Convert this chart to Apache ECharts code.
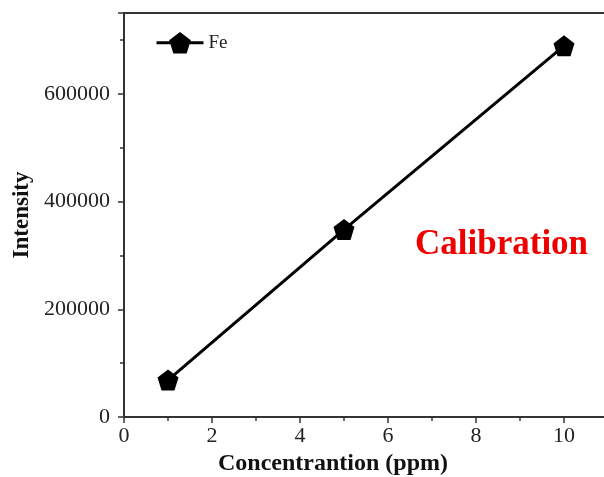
<!DOCTYPE html>
<html><head><meta charset="utf-8">
<script src="https://cdn.jsdelivr.net/npm/echarts@6/dist/echarts.min.js"></script>
<style>html,body{margin:0;padding:0;background:#fff}#c{width:604px;height:477px}</style>
</head><body><div id="c"></div>
<script>
const concentration = [1, 5, 10];
const intensity = [68500, 348000, 689000];
const seriesName = 'Fe';
const xTitle = 'Concentrantion (ppm)';
const yTitle = 'Intensity';
const annotation = 'Calibration';

const pent = 'path://M0,-1 L0.951,-0.309 L0.588,0.809 L-0.588,0.809 L-0.951,-0.309 Z';
const chart = echarts.init(document.getElementById('c'));
const font = 'Liberation Serif';
const axisCol = '#333';
chart.setOption({
  animation: false,
  grid: {left: 124, right: -4, top: 13, bottom: 60, show: true, borderColor: axisCol, borderWidth: 2,
    backgroundColor: 'transparent', containLabel: false, outerBoundsMode: 'none'},
  legend: {
    data: [seriesName], left: 150, top: 27, itemWidth: 47, itemHeight: 27, itemGap: 4,
    textStyle: {fontFamily: font, fontSize: 19, color: '#222'},
    itemStyle: {color: '#000'},
    lineStyle: {width: 3, color: '#000'}
  },
  xAxis: {
    type: 'value', min: 0, max: 11, interval: 2,
    axisLine: {show: true, lineStyle: {color: axisCol, width: 2}},
    axisTick: {show: true, inside: false, length: 6, lineStyle: {color: axisCol, width: 1.5}},
    minorTick: {show: true, splitNumber: 2, length: 4, lineStyle: {color: axisCol, width: 1.5}},
    splitLine: {show: false},
    axisLabel: {fontFamily: font, fontSize: 22, color: '#222', margin: 8,
      formatter: v => (v % 2 === 0 && v <= 10) ? String(v) : ''}
  },
  yAxis: {
    type: 'value', min: 0, max: 750000, interval: 200000,
    name: yTitle, nameLocation: 'middle', nameGap: 86,
    nameTextStyle: {fontFamily: font, fontSize: 23, fontWeight: 'bold', color: '#111'},
    axisLine: {show: true, lineStyle: {color: axisCol, width: 2}},
    axisTick: {show: true, inside: false, length: 6, lineStyle: {color: axisCol, width: 1.5}},
    minorTick: {show: true, splitNumber: 2, length: 4, lineStyle: {color: axisCol, width: 1.5}},
    splitLine: {show: false},
    axisLabel: {fontFamily: font, fontSize: 22, color: '#222', margin: 14,
      formatter: v => v <= 600000 ? String(v) : ''}
  },
  graphic: [
    {type: 'text', left: 218, top: 452, style: {text: xTitle, fontFamily: font, fontSize: 24, fontWeight: 'bold', fill: '#111'}},
    {type: 'text', left: 415, top: 227, style: {text: annotation, fontFamily: font, fontSize: 35, fontWeight: 'bold', fill: '#ee0000'}}
  ],
  series: [{
    name: seriesName, type: 'line',
    data: concentration.map((x, i) => [x, intensity[i]]),
    symbol: pent, symbolSize: 21,
    lineStyle: {color: '#000', width: 3},
    itemStyle: {color: '#000'}
  }]
});
</script></body></html>
